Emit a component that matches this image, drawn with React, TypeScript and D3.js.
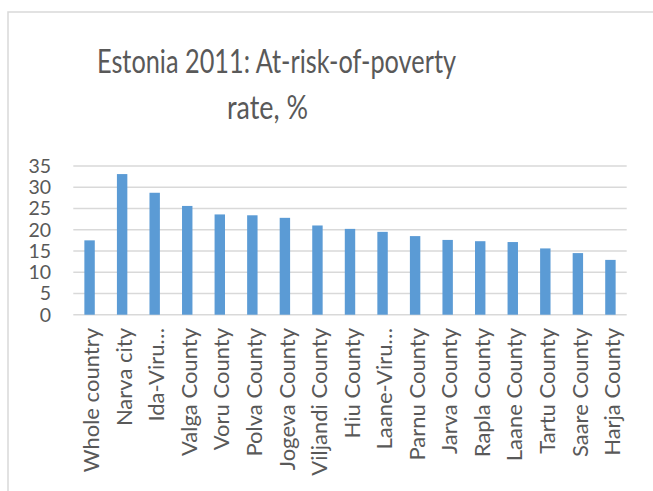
import React from "react";
import * as d3 from "d3";

const categories = [
  "Whole country", "Narva city", "Ida-Viru…", "Valga County", "Voru County",
  "Polva County", "Jogeva County", "Viljandi County", "Hiu County", "Laane-Viru…",
  "Parnu County", "Jarva County", "Rapla County", "Laane County", "Tartu County",
  "Saare County", "Harja County",
];
const values = [17.5, 33.1, 28.7, 25.6, 23.6, 23.4, 22.8, 21.0, 20.2, 19.5, 18.5, 17.6, 17.3, 17.1, 15.6, 14.5, 12.9];
const yTicks = [0, 5, 10, 15, 20, 25, 30, 35];
const titleLines = ["Estonia 2011: At-risk-of-poverty", "rate, %"];

const W = 653;
const H = 491;
const FONT = "Lato, 'Open Sans', sans-serif";
const TEXT = "#595959";

export default function App() {
  const x = d3.scaleBand<string>().domain(categories).range([73.3, 626.7]).paddingInner(0.68).paddingOuter(0.34);
  const y = d3.scaleLinear().domain([0, 35]).range([314.7, 166]);

  return (
    <svg width={W} height={H} style={{ position: "absolute", left: 0, top: 0, display: "block" }}>
      <rect x={0} y={0} width={W} height={H} fill="#fff" />
      <rect x={8} y={12} width={W + 20} height={H + 20} fill="none" stroke="#d9d9d9" strokeWidth={1.5} />
      <text x={276.5} y={72.7} textAnchor="middle" fontFamily={FONT} fontSize={33} fill={TEXT} textLength={359} lengthAdjust="spacingAndGlyphs">{titleLines[0]}</text>
      <text x={267.5} y={118.5} textAnchor="middle" fontFamily={FONT} fontSize={33} fill={TEXT} textLength={81} lengthAdjust="spacingAndGlyphs">{titleLines[1]}</text>
      {yTicks.map((t) => (
        <g key={t}>
          <line x1={73.3} x2={626.7} y1={y(t)} y2={y(t)} stroke="#d9d9d9" strokeWidth={1.5} />
          <text x={51} y={y(t)} dy="0.35em" textAnchor="end" fontFamily={FONT} fontSize={19.5} fill={TEXT}>{t}</text>
        </g>
      ))}
      {categories.map((c, i) => (
        <rect key={c} x={x(c)} y={y(values[i])} width={x.bandwidth()} height={y(0) - y(values[i])} fill="#5b9bd5" />
      ))}
      {categories.map((c) => {
        const cx = (x(c) as number) + x.bandwidth() / 2 + 2;
        return (
          <text key={c} transform={`translate(${cx},328) rotate(-90)`} textAnchor="end" dy="0.35em" fontFamily={FONT} fontSize={22} fill={TEXT}>{c}</text>
        );
      })}
    </svg>
  );
}
